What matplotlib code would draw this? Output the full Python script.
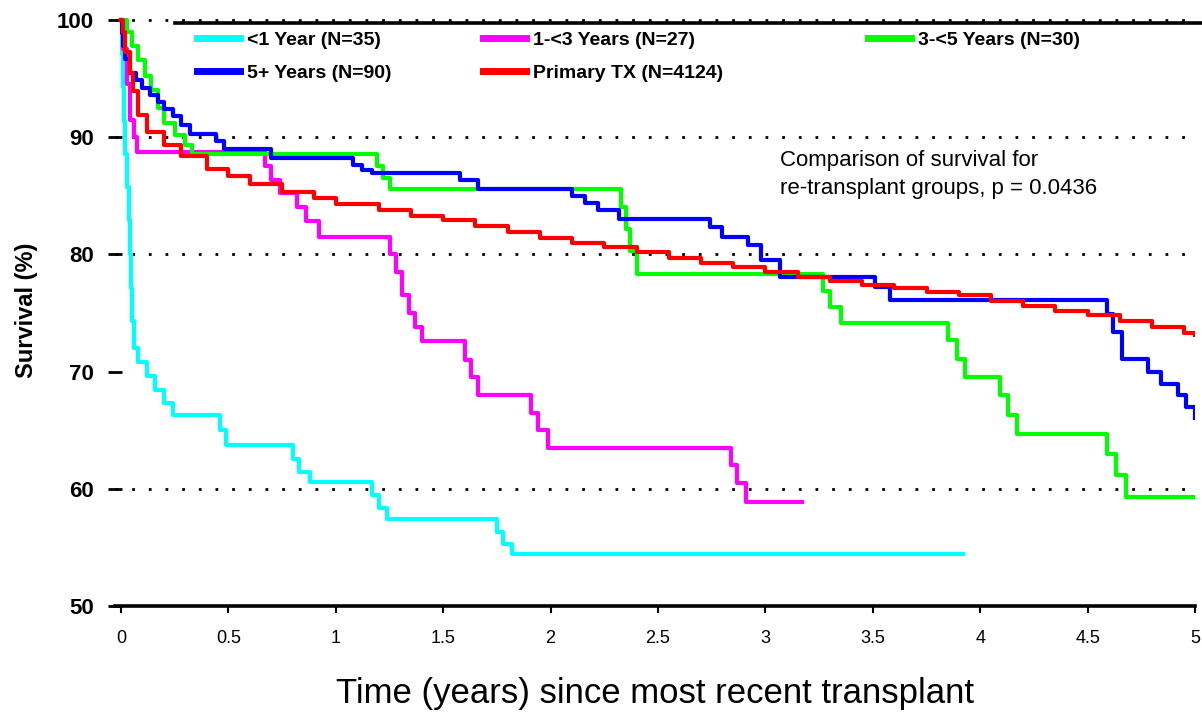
import matplotlib.pyplot as plt
import numpy as np

plt.rcParams['font.family'] = ['Liberation Sans', 'DejaVu Sans']

# Kaplan-Meier style survival curves: time (years) and survival (%)
lt1_t = [0, 0.005, 0.01, 0.015, 0.02, 0.03, 0.035, 0.04, 0.045, 0.05, 0.06,
         0.08, 0.12, 0.16, 0.20, 0.24, 0.46, 0.49, 0.80, 0.83, 0.88,
         1.17, 1.20, 1.24, 1.75, 1.78, 1.82, 3.92]
lt1_s = [100, 97.1, 94.3, 91.4, 88.6, 85.7, 82.9, 80.0, 77.1, 74.3, 72.0,
         70.8, 69.6, 68.4, 67.3, 66.3, 65.0, 63.7, 62.5, 61.4, 60.6,
         59.5, 58.4, 57.4, 56.3, 55.3, 54.4, 54.4]

y1_3_t = [0, 0.01, 0.03, 0.04, 0.06, 0.075, 0.67, 0.70, 0.74, 0.82, 0.86,
          0.92, 1.25, 1.28, 1.31, 1.34, 1.37, 1.40, 1.60, 1.63, 1.66,
          1.91, 1.94, 1.99, 2.84, 2.87, 2.91, 3.17]
y1_3_s = [100, 97.5, 94.5, 91.5, 90.0, 88.7, 87.5, 86.3, 85.2, 84.0, 82.8,
          81.5, 80.0, 78.5, 76.5, 75.0, 73.8, 72.6, 71.0, 69.5, 68.0,
          66.5, 65.0, 63.5, 62.0, 60.5, 58.9, 58.9]

y3_5_t = [0, 0.03, 0.05, 0.08, 0.11, 0.14, 0.17, 0.20, 0.25, 0.30, 0.33,
          1.19, 1.22, 1.25, 2.33, 2.35, 2.37, 2.40, 3.27, 3.30, 3.35,
          3.85, 3.89, 3.93, 4.09, 4.13, 4.17, 4.59, 4.63, 4.68, 5.0]
y3_5_s = [100, 99.0, 97.8, 96.6, 95.2, 94.0, 92.5, 91.2, 90.2, 89.3, 88.6,
          87.5, 86.5, 85.6, 84.0, 82.2, 80.3, 78.3, 76.9, 75.5, 74.1,
          72.7, 71.1, 69.5, 68.0, 66.3, 64.7, 63.0, 61.2, 59.3, 59.3]

y5_t = [0, 0.005, 0.01, 0.02, 0.04, 0.07, 0.10, 0.135, 0.17, 0.20, 0.24,
        0.28, 0.32, 0.44, 0.48, 0.70, 1.08, 1.12, 1.17, 1.58, 1.66,
        2.10, 2.16, 2.22, 2.32, 2.74, 2.80, 2.92, 2.98, 3.07, 3.51,
        3.58, 4.59, 4.62, 4.66, 4.78, 4.84, 4.92, 4.96, 5.0]
y5_s = [100, 98.9, 97.8, 96.7, 95.5, 94.9, 94.2, 93.6, 93.0, 92.4, 91.8,
        91.0, 90.3, 89.7, 89.0, 88.2, 87.6, 87.2, 86.9, 86.3, 85.6,
        85.0, 84.4, 83.8, 83.0, 82.3, 81.5, 80.8, 79.5, 78.1, 77.2,
        76.1, 74.9, 73.4, 71.1, 70.0, 68.9, 68.0, 67.0, 66.0]

prim_t = [0, 0.01, 0.02, 0.04, 0.055, 0.08, 0.12, 0.20, 0.28, 0.40, 0.50,
          0.60, 0.75, 0.90, 1.00, 1.20, 1.35, 1.50, 1.65, 1.80, 1.95,
          2.10, 2.25, 2.40, 2.55, 2.70, 2.85, 3.00, 3.15, 3.30, 3.45,
          3.60, 3.75, 3.90, 4.05, 4.20, 4.35, 4.50, 4.65, 4.80, 4.95, 5.0]
prim_s = [100, 99.0, 97.3, 95.5, 93.9, 91.9, 90.4, 89.3, 88.4, 87.3, 86.7,
          86.0, 85.3, 84.8, 84.3, 83.8, 83.3, 82.9, 82.4, 81.9, 81.4,
          81.0, 80.6, 80.2, 79.7, 79.3, 78.9, 78.5, 78.1, 77.7, 77.4,
          77.1, 76.8, 76.5, 76.0, 75.6, 75.2, 74.8, 74.3, 73.8, 73.3, 73.1]

xticks = [0, 0.5, 1, 1.5, 2, 2.5, 3, 3.5, 4, 4.5, 5]
xtick_labels = ['0', '0.5', '1', '1.5', '2', '2.5', '3', '3.5', '4', '4.5', '5']
yticks = [50, 60, 70, 80, 90, 100]
grid_levels = [60, 80, 90, 100]

fig = plt.figure(figsize=(12.02, 7.14), dpi=100)
ax = fig.add_axes([115 / 1202, 1 - 606 / 714, 1080 / 1202, 592 / 714])
ax.set_xlim(-0.028, 5.0)
ax.set_ylim(50, 100.5)

for g in grid_levels:
    ax.axhline(g, color='black', lw=2, ls=(0, (1, 5)), zorder=1)
# solid rule at the top of the legend area
ax.axhline(99.72, xmin=0.056, xmax=1.01, color='black', lw=2.6, clip_on=False, zorder=1)

lw = 3.0
l_cyan, = ax.step(lt1_t, lt1_s, where='post', color='#00FFFF', lw=lw, label='<1 Year (N=35)', zorder=2)
l_mag, = ax.step(y1_3_t, y1_3_s, where='post', color='#FF00FF', lw=lw, label='1-<3 Years (N=27)', zorder=3)
l_grn, = ax.step(y3_5_t, y3_5_s, where='post', color='#00FF00', lw=lw, label='3-<5 Years (N=30)', zorder=3)
l_blu, = ax.step(y5_t, y5_s, where='post', color='#0000FF', lw=lw, label='5+ Years (N=90)', zorder=4)
l_red, = ax.step(prim_t, prim_s, where='post', color='#FF0000', lw=lw, label='Primary TX (N=4124)', zorder=5)

for s in ['left', 'right', 'top']:
    ax.spines[s].set_visible(False)
ax.spines['bottom'].set_linewidth(2.6)
ax.spines['bottom'].set_position(('data', 50))

ax.set_yticks(yticks)
ax.set_yticklabels([str(v) for v in yticks], fontsize=16, fontweight='bold')
ax.tick_params(axis='y', direction='inout', length=10, width=2, pad=10)
ax.set_xticks(xticks)
ax.set_xticklabels(xtick_labels, fontsize=13)
ax.tick_params(axis='x', direction='out', length=5, width=1.5, pad=12)

ax.set_xlabel('Time (years) since most recent transplant', fontsize=25, labelpad=22)
ax.set_ylabel('Survival (%)', fontsize=17, fontweight='bold', labelpad=14)

# legend laid out as three fixed columns
cols = [([l_cyan, l_blu], 197), ([l_mag, l_red], 483), ([l_grn], 868)]
for handles, xpx in cols:
    leg = fig.legend(handles=handles, loc='upper left',
                     bbox_to_anchor=(xpx / 1202, 1 - 31 / 714),
                     frameon=False, borderpad=0, borderaxespad=0,
                     handlelength=2.2, handletextpad=0.36, labelspacing=0.8,
                     prop={'size': 14, 'weight': 'bold'})
    for line in leg.get_lines():
        line.set_linewidth(5)

ax.text(3.07, 88.9, 'Comparison of survival for\nre-transplant groups, p = 0.0436',
        fontsize=16, va='top', linespacing=1.45,
        transform=ax.transData)

fig.savefig('out.png', dpi=100)
